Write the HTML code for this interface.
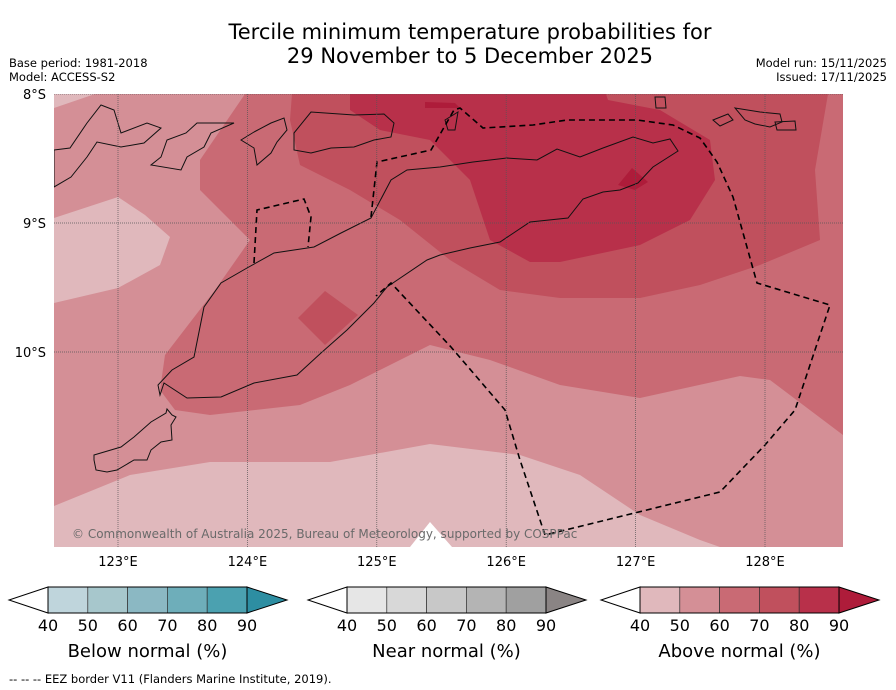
<!DOCTYPE html>
<html><head><meta charset="utf-8">
<style>
html,body{margin:0;padding:0;background:#fff;width:896px;height:690px;overflow:hidden;font-family:"DejaVu Sans","Liberation Sans",sans-serif;}
svg{display:block}
</style></head>
<body>
<svg id="chart" width="896" height="690" xmlns="http://www.w3.org/2000/svg" font-family="DejaVu Sans, Liberation Sans, sans-serif">
<text x="470" y="39" font-size="21" text-anchor="middle" fill="#000">Tercile minimum temperature probabilities for</text>
<text x="470" y="63" font-size="21" text-anchor="middle" fill="#000">29 November to 5 December 2025</text>
<text x="9" y="67" font-size="11.5">Base period: 1981-2018</text>
<text x="9" y="81" font-size="11.5">Model: ACCESS-S2</text>
<text x="887" y="67" font-size="11.5" text-anchor="end">Model run: 15/11/2025</text>
<text x="887" y="81" font-size="11.5" text-anchor="end">Issued: 17/11/2025</text>
<defs><clipPath id="mapclip"><rect x="54" y="94" width="789" height="453"/></clipPath></defs>
<g id="map" clip-path="url(#mapclip)"></g>
<g id="axes"></g>
<g id="cbars"></g>
<text x="9" y="683" font-size="11.5">--  --  -- EEZ border V11 (Flanders Marine Institute, 2019).</text>
</svg>
<script>
const NS="http://www.w3.org/2000/svg";
// geo axes
const lonTicks=[123,124,125,126,127,128];
const latTicks=[8,9,10];
const lonLabels=["123°E","124°E","125°E","126°E","127°E","128°E"];
const latLabels=["8°S","9°S","10°S"];
const cbTicks=["40","50","60","70","80","90"];
const cbTitles=["Below normal (%)","Near normal (%)","Above normal (%)"];
const belowColors=["#bfd5dc","#a7c7cc","#8bb8c3","#6eaeba","#4ba1b0","#2d8ea2"];
const nearColors=["#e6e6e6","#d8d8d8","#c8c8c8","#b4b4b4","#a0a0a0","#8a8484"];
const aboveColors=["#e0b8bc","#d48f96","#c96a74","#c0505d","#b8304a","#ae1c3a"];
function X(lon){return 118+(lon-123)*129.4;}
function Y(lat){return 94+(lat-8)*129;}
function el(t,a,p){const e=document.createElementNS(NS,t);for(const k in a)e.setAttribute(k,a[k]);p.appendChild(e);return e;}
const map=document.getElementById('map');
const regions=[
 {lvl:1,pts:[[54,94],[843,94],[843,547],[54,547]]},
 {lvl:0,pts:[[54,94],[95,94],[54,108]]},
 {lvl:0,pts:[[54,218],[118,197],[145,215],[170,237],[160,265],[118,288],[54,303]]},
 {lvl:0,pts:[[54,506],[130,475],[210,462],[330,462],[430,444],[520,455],[580,475],[640,515],[700,540],[720,547],[54,547]]},
 {lvl:2,pts:[[245,94],[843,94],[843,435],[770,380],[740,376],[640,398],[560,385],[490,360],[430,345],[350,385],[300,405],[210,415],[175,410],[160,390],[165,355],[215,290],[250,240],[200,190],[200,160]]},
 {lvl:3,pts:[[292,94],[828,94],[815,170],[820,240],[760,265],[700,285],[640,298],[560,298],[500,290],[450,260],[400,220],[350,190],[300,165],[290,120]]},
 {lvl:3,pts:[[298,318],[325,291],[358,315],[325,345]]},
 {lvl:4,pts:[[350,94],[606,94],[608,100],[660,110],[710,140],[715,180],[690,220],[640,245],[560,262],[530,262],[490,240],[470,180],[430,140],[380,130],[350,110]]},
 {lvl:5,pts:[[425,102],[455,103],[460,108],[425,108]]},
 {lvl:5,pts:[[618,185],[632,168],[648,182],[635,190]]}
];
regions.forEach((r,i)=>{const p=el('polygon',{points:r.pts.map(q=>q.join(',')).join(' '),fill:aboveColors[r.lvl]},map);

});
const w=el('polygon',{points:'410,547 430,522 452,547',fill:'#fff'},map);


const coasts=[
 [[194,357],[204,307],[221,283],[247,268],[274,253],[314,247],[341,233],[371,218],[391,180],[407,170],[440,167],[473,162],[507,158],[537,160],[557,149],[580,157],[603,148],[633,137],[653,143],[670,139],[678,151],[653,167],[638,183],[620,190],[603,192],[583,199],[568,218],[530,222],[500,242],[470,248],[440,255],[427,260],[387,287],[374,303],[347,330],[321,353],[297,375],[254,383],[221,397],[187,398],[164,383],[160,395],[158,385],[172,370]],
 [[94,455],[121,447],[134,437],[151,422],[166,413],[167,409],[172,415],[176,417],[171,425],[172,440],[161,442],[151,450],[147,460],[134,460],[117,470],[107,472],[96,470],[94,460]],
 [[294,133],[311,112],[354,115],[384,114],[394,123],[391,137],[374,140],[354,147],[331,148],[311,153],[294,150]],
 [[241,140],[254,132],[271,123],[284,118],[287,130],[277,142],[271,153],[257,165],[254,148]],
 [[197,123],[234,123],[211,133],[204,147],[187,157],[181,170],[151,165],[161,157],[167,140],[186,133]],
 [[54,150],[70,148],[87,123],[101,105],[114,110],[121,133],[147,123],[161,128],[144,143],[121,147],[97,142],[87,157],[71,177],[54,187]],
 [[655,97],[665,97],[666,108],[656,108]],
 [[713,120],[728,114],[733,120],[720,126]],
 [[735,108],[760,112],[780,114],[782,122],[770,127],[755,124],[745,120]],
 [[775,122],[795,121],[796,130],[777,130]],
 [[445,120],[458,112],[455,130],[448,130]]
];
coasts.forEach((c,i)=>{const p=el('polygon',{points:c.map(q=>q.join(',')).join(' '),fill:'none',stroke:'#111','stroke-width':1},map);

});
const eez=[
 [[371,217],[377,162],[431,150],[454,110],[460,108],[483,128],[533,125],[567,120],[637,120],[673,125],[700,138],[717,162],[733,197],[757,283],[830,305],[795,410],[765,445],[720,492],[545,535],[520,460],[505,410],[451,347],[391,283],[376,296]],
 [[254,263],[257,210],[304,199],[311,217],[308,247]]
];
eez.forEach((c,i)=>{const p=el('polyline',{points:c.map(q=>q.join(',')).join(' '),fill:'none',stroke:'#000','stroke-width':1.6,'stroke-dasharray':'6,4'},map);

});
lonTicks.forEach(l=>{const g=el('line',{x1:X(l),x2:X(l),y1:94,y2:547,stroke:'#555','stroke-width':0.7,'stroke-dasharray':'1,1'},map);

});
latTicks.forEach(l=>{const g=el('line',{x1:54,x2:843,y1:Y(l),y2:Y(l),stroke:'#555','stroke-width':0.7,'stroke-dasharray':'1,1'},map);

});
const cr=el('text',{x:72,y:538,'font-size':12,fill:'#6a6a6a'},map);cr.textContent='© Commonwealth of Australia 2025, Bureau of Meteorology, supported by COSPPac';


const axes=document.getElementById('axes');
lonTicks.forEach((l,i)=>{const t=el('text',{x:X(l),y:566,'font-size':13,'text-anchor':'middle'},axes);t.textContent=lonLabels[i];

});
latTicks.forEach((l,i)=>{const t=el('text',{x:46,y:Y(l)+5,'font-size':13,'text-anchor':'end'},axes);t.textContent=latLabels[i];

});
const cb=document.getElementById('cbars');
const bars=[{x:48,cols:belowColors},{x:347,cols:nearColors},{x:640,cols:aboveColors}];
bars.forEach((b,bi)=>{const g=el('g',{},cb);


const y0=587,h=26,sw=39.8;
el('polygon',{points:`${b.x},${y0} ${b.x-39},${y0+h/2} ${b.x},${y0+h}`,fill:'#fff',stroke:'#000','stroke-width':1},g);
for(let i=0;i<5;i++)el('rect',{x:b.x+i*sw,y:y0,width:sw,height:h,fill:b.cols[i],stroke:'#333','stroke-width':0.7},g);
const xe=b.x+5*sw;
el('polygon',{points:`${xe},${y0} ${xe+40},${y0+h/2} ${xe},${y0+h}`,fill:b.cols[5],stroke:'#000','stroke-width':1},g);
el('rect',{x:b.x,y:y0,width:5*sw,height:h,fill:'none',stroke:'#000','stroke-width':1},g);
cbTicks.forEach((t,i)=>{const tx=el('text',{x:b.x+i*sw,y:631,'font-size':16,'text-anchor':'middle'},g);tx.textContent=t;});
const tt=el('text',{x:b.x+2.5*sw,y:657,'font-size':18,'text-anchor':'middle'},g);tt.textContent=cbTitles[bi];
});
</script>
</body></html>
